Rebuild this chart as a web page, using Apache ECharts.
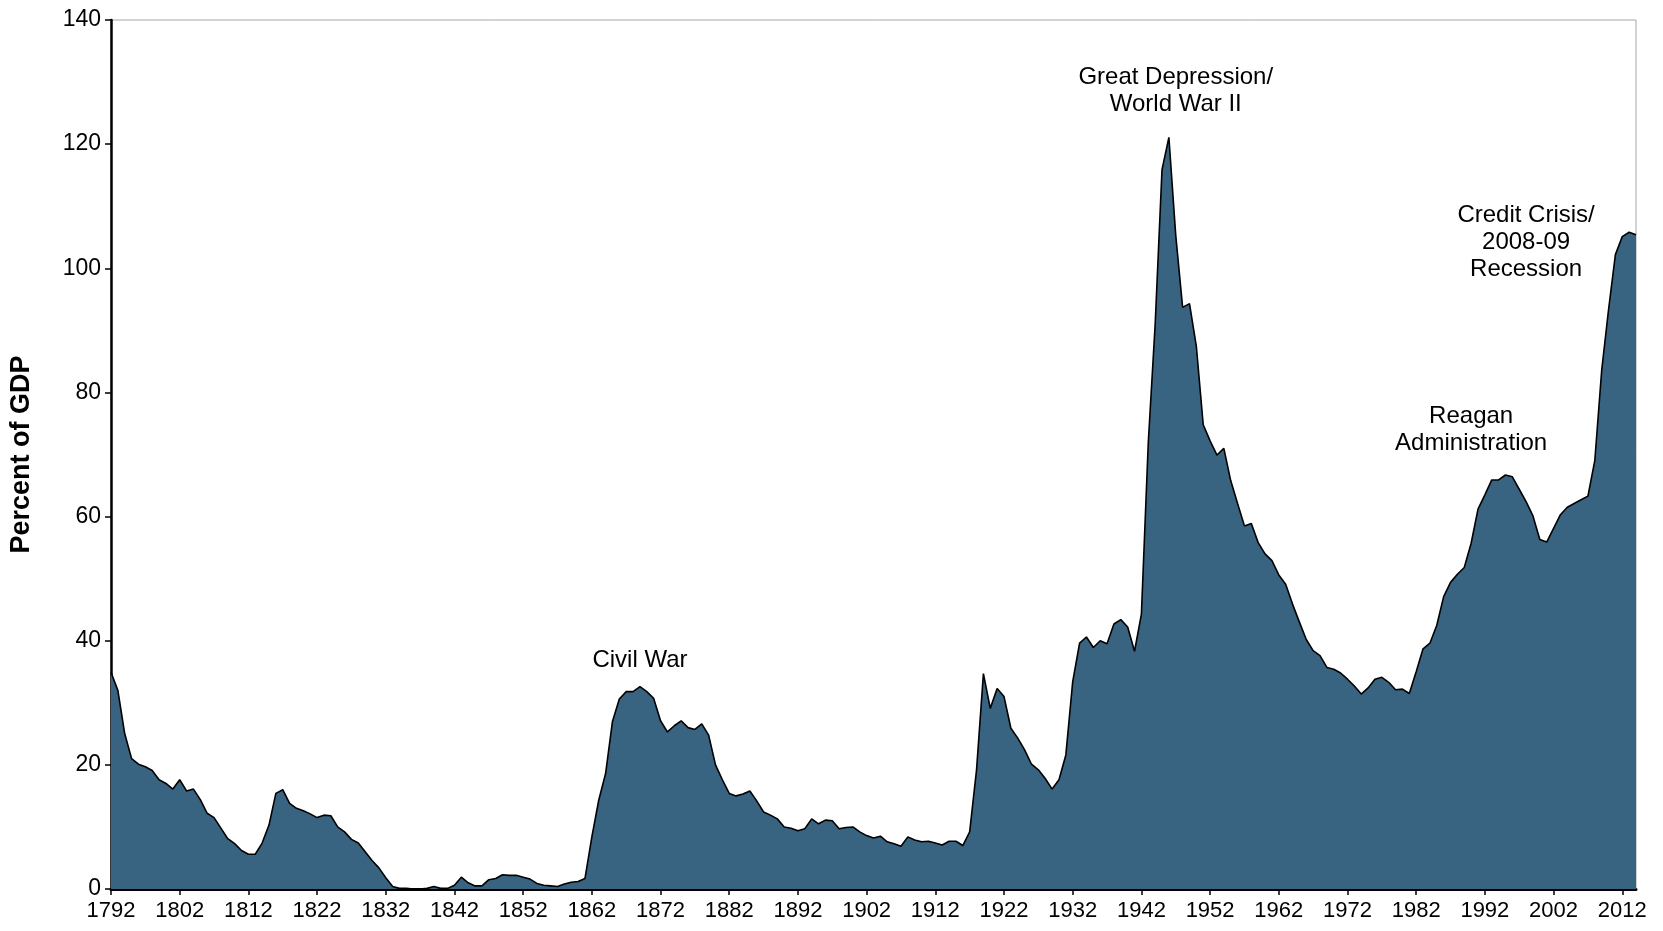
<!DOCTYPE html>
<html>
<head>
<meta charset="utf-8">
<script src="https://cdn.jsdelivr.net/npm/echarts@6/dist/echarts.min.js"></script>
<style>
html,body{margin:0;padding:0;background:#fff;}
#chart{width:1663px;height:931px;}
</style>
</head>
<body>
<div id="chart"></div>
<script>
// Federal debt held by the public, percent of GDP, 1792-2014
const START_YEAR = 1792;
const debtPct = [
  34.9, 32.0, 25.0, 21.0, 20.1, 19.7, 19.1, 17.6, 17.0, 16.1,
  17.6, 15.8, 16.1, 14.4, 12.2, 11.5, 9.8, 8.1, 7.3, 6.2,
  5.6, 5.6, 7.4, 10.3, 15.4, 16.0, 13.8, 13.0, 12.6, 12.1,
  11.5, 11.9, 11.8, 10.0, 9.2, 8.0, 7.4, 6.0, 4.6, 3.4,
  1.8, 0.4, 0.1, 0.1, 0.0, 0.0, 0.1, 0.4, 0.1, 0.1,
  0.6, 1.9, 1.0, 0.5, 0.5, 1.5, 1.7, 2.3, 2.2, 2.2,
  1.9, 1.6, 0.9, 0.6, 0.5, 0.4, 0.8, 1.1, 1.2, 1.7,
  8.4, 14.3, 18.6, 27.0, 30.6, 31.8, 31.8, 32.6, 31.8, 30.7,
  27.1, 25.3, 26.3, 27.1, 26.0, 25.7, 26.6, 24.8, 20.0, 17.6,
  15.4, 15.0, 15.3, 15.8, 14.2, 12.4, 11.9, 11.3, 10.0, 9.8,
  9.4, 9.7, 11.3, 10.5, 11.1, 11.0, 9.7, 9.9, 10.0, 9.2,
  8.6, 8.2, 8.5, 7.6, 7.3, 6.9, 8.4, 7.9, 7.6, 7.7,
  7.4, 7.1, 7.7, 7.7, 7.0, 9.2, 19.2, 34.7, 29.1, 32.3,
  31.0, 25.9, 24.3, 22.4, 20.1, 19.2, 17.8, 16.1, 17.6, 21.6,
  33.4, 39.6, 40.6, 38.9, 40.0, 39.5, 42.7, 43.4, 42.2, 38.3,
  44.3, 71.9, 90.9, 115.9, 121.1, 105.3, 93.7, 94.3, 87.4, 74.8,
  72.2, 69.9, 71.0, 65.8, 62.1, 58.5, 58.9, 55.8, 54.0, 52.9,
  50.6, 49.1, 45.9, 43.0, 40.2, 38.4, 37.6, 35.7, 35.4, 34.8,
  33.8, 32.7, 31.4, 32.4, 33.8, 34.1, 33.3, 32.1, 32.2, 31.5,
  35.0, 38.7, 39.6, 42.5, 47.1, 49.4, 50.7, 51.8, 55.7, 61.2,
  63.5, 65.9, 65.9, 66.7, 66.4, 64.4, 62.4, 60.1, 56.3, 55.9,
  58.1, 60.3, 61.5, 62.1, 62.7, 63.3, 69.0, 83.5, 93.3, 102.2,
  105.1, 105.8, 105.4
];
const years = debtPct.map((_, i) => String(START_YEAR + i));

// Annotations: text, anchor year, anchor value (text centre)
const noteTexts  = ['Civil War', 'Great Depression/\nWorld War II', 'Credit Crisis/\n2008-09\nRecession', 'Reagan\nAdministration'];
const noteYears  = ['1869', '1947', '1998', '1990'];
const noteValues = [36.8, 128.6, 104.2, 73.9];

const yTicks = { min: 0, max: 140, interval: 20 };

const chart = echarts.init(document.getElementById('chart'), null, { renderer: 'canvas' });
chart.setOption({
  animation: false,
  backgroundColor: '#ffffff',
  grid: {
    left: 111, right: 27, top: 20, bottom: 42,
    show: true, borderColor: '#a6a6a6', borderWidth: 1, backgroundColor: 'transparent'
  },
  xAxis: {
    type: 'category',
    data: years,
    boundaryGap: false,
    axisLine: { show: true, lineStyle: { color: '#000', width: 3 } },
    axisTick: { show: true, interval: 9, length: 6, inside: false, lineStyle: { color: '#000', width: 1.5 } },
    axisLabel: {
      interval: 9, margin: 11, color: '#000',
      fontFamily: "'Liberation Sans Narrow', 'Arial Narrow', 'Liberation Sans', Arial, sans-serif",
      fontSize: 22
    },
    splitLine: { show: false }
  },
  yAxis: {
    type: 'value',
    min: yTicks.min, max: yTicks.max, interval: yTicks.interval,
    name: 'Percent of GDP',
    nameLocation: 'middle',
    nameRotate: 90,
    nameGap: 76,
    nameTextStyle: { fontFamily: "'Liberation Sans', Arial, sans-serif", fontSize: 27, fontWeight: 'bold', color: '#000' },
    axisLine: { show: true, lineStyle: { color: '#000', width: 2.5 } },
    axisTick: { show: true, length: 6, inside: false, lineStyle: { color: '#000', width: 1.5 } },
    axisLabel: { margin: 10, color: '#000', fontFamily: "'Liberation Sans', Arial, sans-serif", fontSize: 23 },
    splitLine: { show: false }
  },
  series: [{
    type: 'line',
    data: debtPct,
    symbol: 'none',
    smooth: false,
    lineStyle: { color: '#000', width: 1.6 },
    areaStyle: { color: '#386381', opacity: 1 },
    z: 2,
    markPoint: {
      symbol: 'circle',
      symbolSize: 0,
      silent: true,
      label: {
        show: true,
        position: 'inside',
        color: '#000',
        fontFamily: "'Liberation Sans', Arial, sans-serif",
        fontSize: 24,
        lineHeight: 27,
        align: 'center',
        verticalAlign: 'middle',
        formatter: p => p.name
      },
      data: noteTexts.map((t, i) => ({ name: t, coord: [noteYears[i], noteValues[i]] }))
    }
  }]
});
</script>
</body>
</html>
